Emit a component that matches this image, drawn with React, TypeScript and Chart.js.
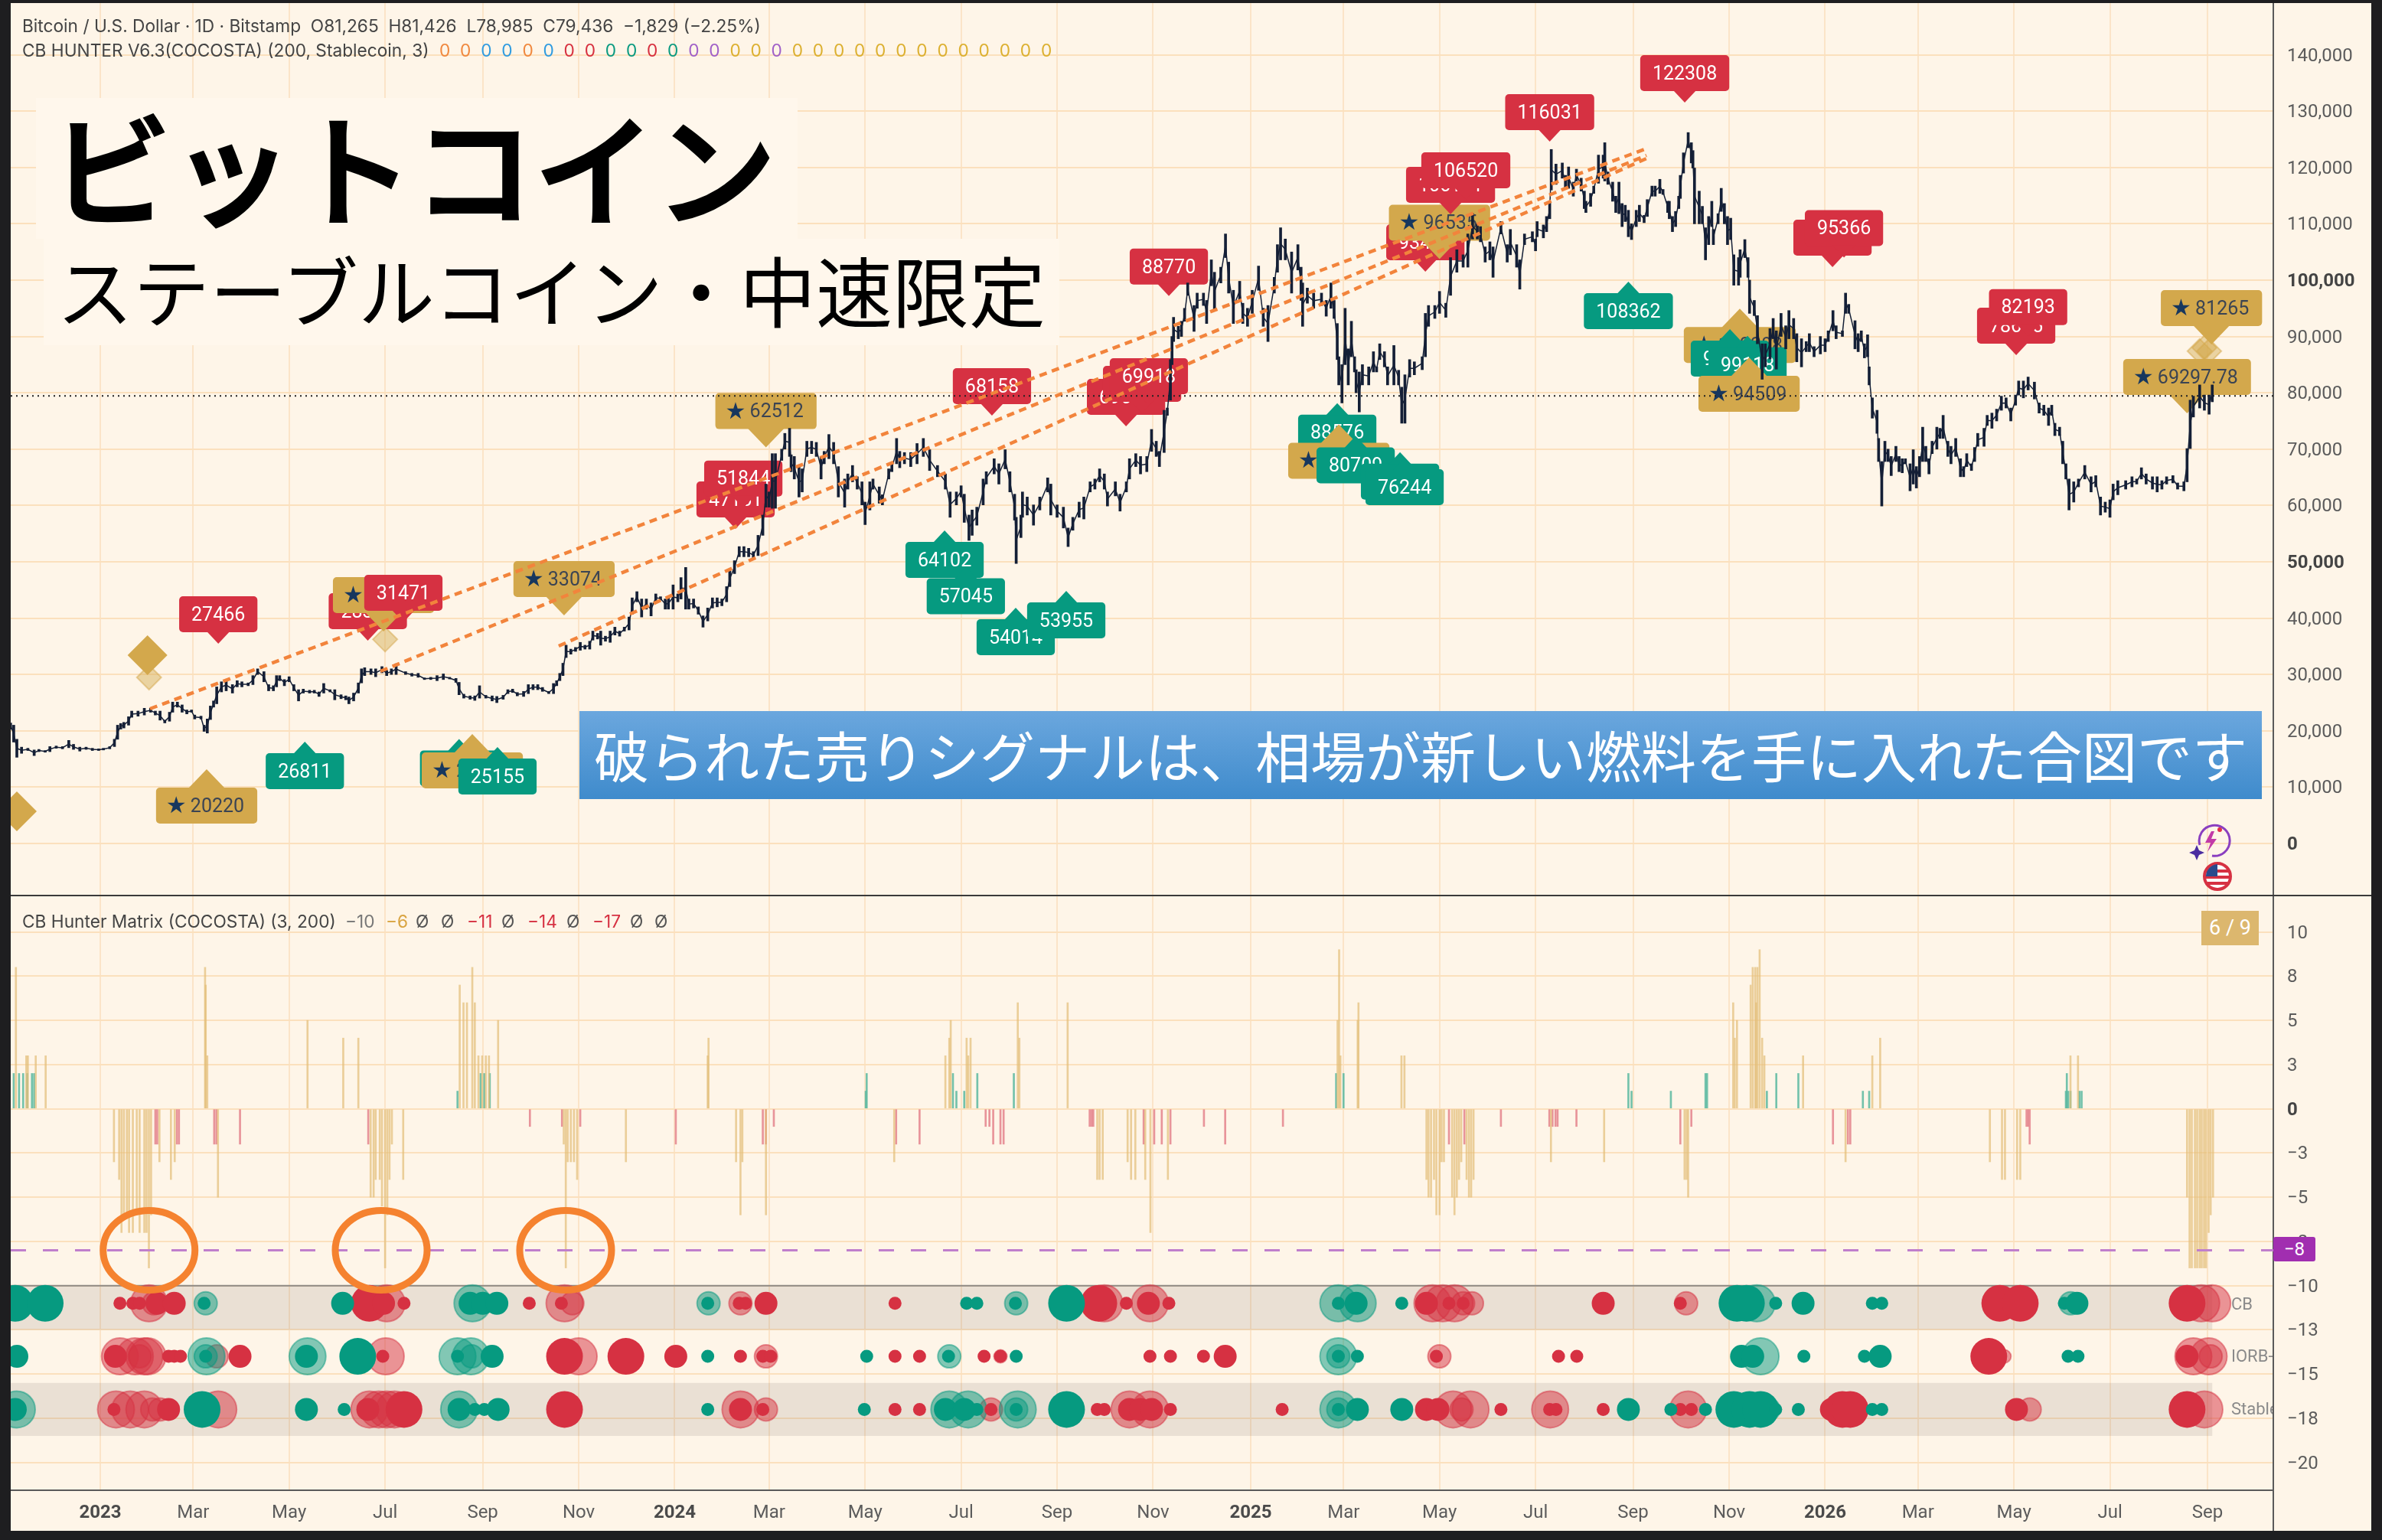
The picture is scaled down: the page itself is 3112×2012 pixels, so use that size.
import { useEffect, useRef } from 'react';
import Chart from 'chart.js/auto';

// days are counted from 2023-01-01, prices in thousands
type Candle = [number, number, number];
type Badge = [number, number, string, 'sell' | 'buy' | 'goldDown' | 'goldUp'];
type Dot = [number, number];
type Stick = [number, number];

const candles2022: Candle[] = [
  [-57, 20.3, 21.4], [-55, 18, 21], [-53, 15.3, 18.5], [-50, 16, 17.1], [-46, 16.5, 16.9], [-42, 15.6, 16.6],
  [-39, 16.3, 16.7], [-35, 16.2, 16.5], [-32, 16.3, 17.2], [-28, 16.9, 17.3], [-24, 16.8, 17.2], [-20, 17, 18.3],
  [-17, 16.7, 17.6], [-13, 16.4, 17.1], [-9, 16.7, 17.1], [-5, 16.5, 16.9], [-1, 16.5, 16.8],
];
const candles2023: Candle[] = [
  [2, 16.6, 16.9], [6, 16.8, 17.2], [9, 17.2, 18.5], [11, 18.5, 21], [13, 20.3, 21.3], [15, 20.5, 21.5], [18, 21, 22.5],
  [20, 22.4, 23.5], [24, 22.6, 23.5], [28, 22.8, 24], [32, 23.3, 24], [35, 22.8, 23.5], [38, 21.9, 23.5], [41, 21.4, 21.9],
  [44, 21.7, 23.3], [46, 23.3, 25.1], [49, 24.2, 25.1], [52, 23.3, 24.6], [55, 23, 23.7], [58, 23.3, 23.7], [60, 22.1, 22.8],
  [64, 22.1, 22.6], [66, 19.9, 21], [68, 19.6, 22.1], [70, 22, 24.4], [72, 24.2, 25.3], [74, 24.8, 27.8], [77, 26.9, 28.7],
  [80, 27.1, 29.1], [84, 26.7, 28.2], [87, 27.8, 28.9], [90, 27.8, 28.7], [94, 28, 28.5], [97, 28.2, 29.8], [100, 30, 31],
  [104, 28.7, 30.5], [107, 27.1, 28.2], [110, 27.1, 28], [112, 27.8, 29.8], [114, 28.9, 29.8], [117, 28, 29.1], [120, 28.7, 29.6],
  [123, 27.1, 28.2], [126, 25.3, 27.3], [129, 26.7, 27.4], [133, 26.7, 27.2], [136, 26.7, 27.2], [139, 26.1, 26.9], [142, 26.7, 28.4],
  [146, 26.9, 27.3], [149, 25.5, 27.3], [153, 25.7, 26.4], [156, 25.5, 26.2], [158, 24.8, 26], [161, 25.3, 26.7], [164, 26.7, 28.5],
  [166, 28.5, 31], [168, 29.8, 31.2], [172, 30, 31], [175, 29.6, 31], [179, 30.3, 31.4], [182, 29.8, 30.7], [185, 30, 31], [188, 30, 31.9],
  [194, 30, 30.5], [198, 29.7, 30.2], [202, 29.5, 30.2], [206, 29.1, 29.4], [210, 29.1, 29.5], [214, 28.9, 29.8], [218, 29.1, 30.1],
  [222, 29.2, 29.5], [226, 28.6, 29.3], [228, 26.4, 28.6], [231, 25.8, 26.5], [235, 25.6, 26.2], [238, 25.4, 26.2], [241, 25.8, 28],
  [245, 25.8, 26.3], [249, 25.3, 26.2], [252, 25, 26.1], [256, 25.6, 26.3], [259, 26.6, 27.3], [262, 26.8, 27.4], [265, 26.2, 26.8],
  [269, 26.1, 27], [272, 26.6, 28.2], [275, 27.3, 28.2], [278, 27.3, 28.2], [281, 27, 27.7], [285, 26.6, 27], [288, 26.6, 28.4],
  [290, 28, 28.9], [292, 28.9, 30.2], [294, 29.8, 32], [296, 33, 35.2], [299, 33.6, 34.5], [302, 34.1, 34.8], [305, 34.3, 35.7],
  [308, 34.5, 35.2], [311, 34.5, 35.9], [313, 36.1, 37.7], [316, 36.3, 37.3], [318, 35.2, 37.7], [321, 35.9, 36.8], [324, 35.7, 37.7],
  [327, 37, 38.4], [330, 36.8, 37.7], [333, 37.7, 38.4], [336, 37.9, 40.2], [338, 40.7, 43.6], [341, 42.9, 44.7], [344, 40.2, 43.4],
  [347, 41.6, 43.4], [350, 40.4, 42.7], [353, 42.9, 44.3], [356, 43.2, 43.8], [359, 41.6, 43.4], [361, 41.6, 43.6], [364, 41.6, 45.9],
];
const candles2024: Candle[] = [
  [367, 42.9, 44.3], [369, 43.4, 47.2], [372, 41.6, 49], [374, 41.6, 43.4], [377, 41.8, 43.4], [380, 40.7, 42], [383, 38.4, 40.4],
  [386, 39.5, 41.8], [389, 41.8, 43.6], [392, 42, 43.6], [395, 42.2, 43.4], [398, 42.9, 45.6], [400, 45.6, 48.4], [403, 47.9, 50.2],
  [406, 50.9, 52.7], [409, 50.9, 52.7], [412, 50.9, 52.4], [415, 50.6, 51.8], [418, 51.1, 54.7], [421, 54.7, 58.3], [423, 59.7, 63.8],
  [425, 59.7, 62.4], [427, 59.5, 69.2], [429, 59.5, 69.2], [433, 68, 70], [435, 70, 72.8], [438, 68.7, 73.7], [439, 66, 69], [441, 64.7, 68.7],
  [444, 61.5, 66.9], [446, 62.4, 66.5], [449, 68.7, 71.4], [452, 69.2, 71.4], [455, 68.7, 71.2], [458, 64.7, 68.7], [460, 67.4, 69.6],
  [463, 68.3, 72.6], [466, 67.4, 71.2], [469, 61.5, 66.9], [473, 59.7, 64.7], [475, 62.9, 65.6], [478, 64.2, 67.1], [481, 62.9, 65.1],
  [484, 60.1, 64.2], [486, 56.6, 60.6], [489, 59.2, 64.2], [491, 62.9, 64.7], [495, 60.4, 63.3], [497, 60.1, 61.9], [501, 64.7, 66.5],
  [503, 66, 67.4], [506, 67.4, 71.9], [508, 66.7, 69.6], [511, 67.4, 69.4], [515, 66.9, 69.4], [519, 67.4, 71], [523, 68.7, 71.9],
  [527, 66.2, 69.9], [532, 65.1, 67.1], [537, 62.9, 65.6], [540, 57.9, 62.4], [544, 60.1, 62.4], [547, 61.5, 63.5], [549, 57, 62],
  [552, 53.8, 58.3], [554, 54.7, 59.2], [557, 56.5, 59.7], [561, 60.1, 64.7], [563, 63.8, 66], [568, 65.6, 68.3], [571, 63.8, 67.4],
  [575, 66.5, 69.9], [578, 62.4, 66], [581, 57.4, 62], [582, 49.7, 57.9], [585, 54.3, 58.3], [586, 57.9, 62.4], [589, 58.3, 61.5],
  [593, 56.5, 60.1], [597, 59.2, 61.5], [602, 62.4, 64.9], [604, 58.3, 63.8], [608, 57.9, 60.1], [612, 56, 59.7], [615, 52.7, 56],
  [618, 55.6, 57.9], [622, 57.9, 60.6], [625, 57.6, 61.5], [629, 62.4, 64.2], [632, 62.9, 64.7], [635, 64.2, 66.5], [638, 62.9, 65.6],
  [640, 59.9, 62.4], [645, 61.7, 64.2], [648, 59, 62], [652, 62.4, 64.2], [654, 64.7, 68.3], [658, 66.9, 69.2], [661, 65.6, 68.7],
  [665, 66, 68.7], [668, 69.6, 73.5], [671, 68.7, 71.4], [673, 66.9, 69.6], [676, 69.4, 76.9], [678, 76, 77.3], [680, 78.7, 85.9],
  [681, 85, 90], [682, 89.1, 93.4], [685, 89.6, 91.8], [687, 90, 92.7], [689, 92.7, 95], [691, 97.3, 99.5], [695, 90.9, 95.5],
  [697, 95, 97.7], [701, 95.5, 97.7], [703, 92.3, 96.4], [706, 99, 103.6], [708, 94.6, 101.4], [712, 99.5, 102.3], [715, 104, 108.2],
  [717, 97.7, 103.2], [720, 92.3, 98.2], [724, 96.4, 99.8], [726, 92.3, 95.9], [729, 91.8, 95],
];
const candles2025: Candle[] = [
  [732, 94.1, 98.2], [736, 98.2, 102.5], [739, 91.8, 95], [742, 89.1, 95.5], [746, 97.7, 100.5], [748, 101.4, 106.3], [750, 103.6, 109.3],
  [753, 103.6, 107.3], [757, 97.7, 105], [761, 101.8, 106.3], [763, 96.4, 102.3], [764, 91.8, 99.5], [767, 95.9, 98.6], [771, 95, 97.7],
  [776, 95.5, 97.7], [779, 93.6, 96.4], [782, 95, 99.5], [784, 93.2, 96.4], [786, 85.9, 92.3], [787, 81.4, 86.4], [789, 78.2, 85],
  [791, 85, 95], [793, 81.4, 87.8], [795, 86.4, 92.7], [797, 83.7, 86.4], [798, 80, 84.1], [800, 76.6, 83.7], [802, 81.4, 85],
  [806, 81.4, 84.6], [809, 83.7, 87.3], [811, 83.7, 84.6], [813, 85.9, 88.7], [816, 84.6, 87.3], [818, 81.4, 84.6], [822, 81.4, 88.4],
  [825, 81.4, 84], [827, 74.6, 81], [829, 74.6, 83.2], [832, 82.8, 85.9], [835, 83.2, 85.5], [840, 84.1, 86.4], [842, 86.4, 94.1],
  [844, 91.8, 95.5], [848, 93.2, 95.5], [851, 94.1, 98], [855, 93.4, 95.9], [858, 97.3, 104], [862, 101.4, 105.4], [866, 102.3, 104.5],
  [869, 102.3, 108.2], [872, 107.3, 111.8], [875, 107.3, 110], [877, 106.8, 109.5], [880, 103.2, 105.9], [883, 103.6, 106.8],
  [885, 100.5, 105.9], [890, 108.2, 110.4], [894, 103.2, 106.3], [896, 104.5, 109], [900, 102.3, 106.3], [902, 98.4, 103.6],
  [905, 106.3, 108.2], [910, 106.8, 108.6], [912, 105.2, 107.3], [913, 107.7, 110.4], [917, 107.5, 109.8], [919, 108.6, 111.3],
  [921, 110.9, 114], [922, 116, 123.2], [925, 117, 120.6], [929, 118.1, 120.8], [931, 116.3, 118.6], [933, 116.3, 120.1], [936, 114.9, 117.4],
  [938, 117.6, 119.7], [941, 115.8, 118.1], [943, 112.7, 115.8], [944, 112, 114], [947, 113.1, 115.4], [949, 115.4, 116.7],
  [952, 117.2, 122.2], [955, 118.1, 122.2], [956, 117.6, 124.4], [958, 117, 119.2], [961, 114, 117.4], [963, 112, 114.9], [965, 111.8, 117.4],
  [967, 109.5, 113.6], [969, 110.4, 113.3], [971, 107.7, 112.4], [973, 107.2, 110], [976, 109.5, 112.4], [978, 110.4, 113.3],
  [981, 110.2, 111.5], [983, 111.3, 114.3], [986, 114.9, 116.7], [988, 114.9, 116.7], [991, 115.4, 117.9], [993, 115.2, 116.1],
  [996, 112, 114], [997, 110.9, 114], [999, 108.6, 111.3], [1001, 109.5, 112.2], [1003, 112.7, 114.9], [1004, 114.5, 118.6],
  [1006, 119, 122.6], [1009, 123.5, 126.2], [1011, 120.8, 124.4], [1012, 119.9, 123], [1013, 110, 119.9], [1016, 110, 115.8],
  [1018, 110, 113.1], [1020, 103.6, 109.3], [1022, 106.3, 111.3], [1024, 109.5, 114], [1025, 106.3, 109], [1028, 110, 111.8],
  [1030, 112.2, 116.3], [1032, 110, 113.6], [1034, 106.3, 111.3], [1036, 107.2, 111], [1038, 99.1, 104.5], [1041, 99.1, 104],
  [1042, 100.5, 105.4], [1045, 104, 107.2], [1047, 100.5, 104], [1048, 94.1, 100], [1051, 93.7, 96.4], [1053, 88.7, 93.7],
  [1056, 82.4, 88.7], [1058, 84.6, 88.7], [1061, 86, 91.4], [1063, 89.6, 93.2], [1065, 84.2, 91], [1068, 90, 94.1], [1071, 87.8, 91.9],
  [1073, 89.6, 94.6], [1076, 89.6, 93.2], [1078, 85.5, 90.5], [1081, 84.6, 89.6], [1084, 87.3, 89.1], [1086, 87.3, 90.5],
  [1089, 86.4, 88.2], [1093, 86.9, 90],
];
const candles2026: Candle[] = [
  [1096, 87.3, 89.6], [1098, 89.1, 91], [1101, 91, 94.6], [1103, 89.6, 91.9], [1107, 90, 91], [1109, 94.1, 97.7], [1111, 94.1, 95.7],
  [1115, 87.8, 92.8], [1117, 87.3, 90.5], [1119, 89.1, 91], [1121, 86.2, 88.7], [1123, 86.4, 90.3], [1124, 81.4, 84.6], [1126, 75.5, 79.1],
  [1129, 72.8, 76.9], [1130, 67.8, 71.9], [1132, 59.9, 67.8], [1134, 67.8, 71.4], [1136, 67.8, 70], [1138, 65.3, 68.7], [1141, 67.8, 70.5],
  [1143, 66, 68.7], [1145, 65.8, 68.3], [1147, 67.4, 68.3], [1150, 62.6, 67.4], [1152, 63.8, 69.9], [1154, 63.1, 66.9], [1156, 65.1, 68.7],
  [1158, 67.8, 73.9], [1160, 67.8, 70.5], [1162, 65.6, 68.3], [1164, 69.2, 71.4], [1167, 70, 73.9], [1169, 71.9, 73.7], [1171, 71.9, 76],
  [1174, 68.7, 71.4], [1176, 67.4, 70.5], [1179, 68.7, 71.9], [1182, 65.1, 68.3], [1184, 65.1, 66.9], [1186, 66.9, 69.2], [1189, 66.2, 67.4],
  [1191, 67.8, 70.3], [1193, 70.5, 72.8], [1197, 70.5, 73.7], [1199, 74.2, 76], [1202, 73.7, 76.4], [1205, 75, 77.1], [1208, 76.9, 79.4],
  [1211, 77.3, 79.1], [1214, 75, 77.3], [1217, 77.8, 79.6], [1219, 79.6, 82.1], [1222, 79.1, 82.1], [1225, 80.5, 82.8], [1229, 78.9, 81.9],
  [1232, 76.4, 78.2], [1235, 76, 77.8], [1238, 74.2, 77.3], [1240, 76, 77.8], [1242, 72.4, 74.6], [1245, 72.4, 73.9], [1247, 67.4, 71.4],
  [1249, 64.7, 67.4], [1251, 59.2, 64.7], [1254, 60.6, 64.2], [1257, 63.3, 64.7], [1261, 64.7, 67.1], [1265, 62.4, 65.1], [1268, 63.3, 65.3],
  [1271, 58.3, 61.5], [1274, 58.8, 60.6], [1277, 57.9, 61], [1279, 61, 63.8], [1282, 61.9, 64.4], [1287, 62.9, 64.4], [1291, 63.3, 65.1],
  [1294, 63.8, 64.7], [1297, 64.7, 66.7], [1300, 63.8, 65.6], [1304, 62.9, 65.1], [1307, 62.4, 65.1], [1310, 62.9, 64.4], [1313, 63.8, 65.1],
  [1317, 64, 65.3], [1320, 62.9, 64], [1324, 62.6, 64.2], [1326, 64.2, 70.1], [1328, 70.1, 78.7], [1330, 75.7, 79.4], [1334, 77.3, 81.4],
  [1337, 76.9, 79.6], [1340, 76.2, 79.6], [1342, 78.4, 81.4],
];

const lastPrice = 79436;

// tip of each marker: day, price, text, kind. drawn in this order
const badges: Badge[] = [
  [67.6, 13180, '20220', 'goldUp'], [75, 35460, '27466', 'sell'], [130, 18070, '26811', 'buy'], [170, 36005, '28357', 'sell'],
  [180, 37640, '30118', 'goldDown'], [192.6, 39266, '31471', 'sell'], [228, 18560, '26150', 'buy'], [236.4, 19430, '25880', 'goldUp'],
  [252.4, 17120, '25155', 'buy'], [294.7, 40490, '33074', 'goldDown'], [403.7, 55840, '47151', 'sell'], [408.6, 59560, '51844', 'sell'],
  [423, 70300, '62512', 'goldDown'], [536.5, 55570, '64102', 'buy'], [550, 49120, '57045', 'buy'], [566.6, 75950, '68158', 'sell'],
  [581.7, 41850, '54014', 'buy'], [613.8, 44840, '53955', 'buy'], [651.8, 74050, '69690', 'sell'], [662, 76360, '69040', 'sell'],
  [666.3, 77720, '69918', 'sell'], [679, 97180, '88770', 'sell'], [786, 78170, '88576', 'buy'], [787, 74390, '83340', 'goldUp'],
  [797.7, 72340, '80709', 'buy'], [825.9, 69470, '78120', 'buy'], [828.8, 68480, '76244', 'buy'], [842, 101500, '93401', 'sell'],
  [851, 103740, '96535', 'goldDown'], [858, 111700, '106181', 'sell'], [867.7, 114270, '106520', 'sell'], [921, 124590, '116031', 'sell'],
  [971, 99730, '108362', 'buy'], [1006.8, 131520, '122308', 'sell'], [1041.8, 94930, '102288', 'goldUp'], [1035.5, 91300, '99018', 'buy'],
  [1046.7, 90130, '99118', 'buy'], [1047.7, 86280, '94509', 'goldUp'], [1100.7, 102300, '95120', 'sell'], [1108, 104000, '95366', 'sell'],
  [1217.4, 86690, '78605', 'sell'], [1225, 89990, '82193', 'sell'], [1326, 76360, '69297.78', 'goldDown'], [1341.5, 88590, '81265', 'goldDown'],
];

const diamondsSolid = [{ x: -53, y: 5720 }, { x: 30, y: 33420 }];
const diamondsLight = [
  { x: 31, y: 29480 }, { x: 181, y: 36230 }, { x: 1334, y: 87400 }, { x: 1337, y: 88000 }, { x: 1340, y: 87400 },
];

const trendA = [{ x: 31.6, y: 23913 }, { x: 982.5, y: 123370 }];
const trendB = [{ x: 178, y: 30570 }, { x: 982.5, y: 122150 }];
const trendC = [{ x: 291.3, y: 35050 }, { x: 982.5, y: 121600 }];

const priceTicks = [0, 10000, 20000, 30000, 40000, 50000, 60000, 70000, 80000, 90000, 100000, 110000, 120000, 130000, 140000];
const boldPriceTicks = [0, 50000, 100000];
const matrixTicks = [10, 7.5, 5, 2.5, 0, -2.5, -5, -7.5, -10, -12.5, -15, -17.5, -20];
const matrixTickLabels = ['10', '8', '5', '3', '0', '−3', '−5', '−8', '−10', '−13', '−15', '−18', '−20'];

const monthDays = [0, 59, 120, 181, 243, 304, 365, 425, 486, 547, 608, 669, 731, 790, 851, 912, 974, 1035, 1096, 1155, 1216, 1277, 1339];
const monthLabels = ['2023', 'Mar', 'May', 'Jul', 'Sep', 'Nov', '2024', 'Mar', 'May', 'Jul', 'Sep', 'Nov', '2025', 'Mar', 'May', 'Jul', 'Sep', 'Nov', '2026', 'Mar', 'May', 'Jul', 'Sep'];

// histogram sticks: day, score
const goldSticks: Stick[] = [
  [-53.6, 8], [-47, 3], [-46, 3], [-41, 3], [-34.7, 3], [66.6, 8], [67, 7], [68, 3], [131.7, 5], [154.4, 4], [164, 4],
  [228.4, 7], [230.8, 6], [233, 6], [236.4, 8], [238, 6], [240.3, 3], [242.7, 3], [245, 3], [247, 3], [252.8, 5],
  [386, 3], [386.5, 4], [537, 3], [539.5, 4], [540.4, 5], [550.5, 4], [551.5, 3], [553, 4], [583, 6], [584, 4], [614.7, 6],
  [8.7, -3], [12, -4], [13.5, -7], [15, -6], [16.9, -6], [18.3, -7], [20.7, -7], [23.2, -6], [25, -7], [28, -7], [29.4, -7], [30.9, -9], [32.3, -6],
  [37.6, -3], [44.9, -4], [47.3, -3], [74.8, -5], [171.8, -5], [173.7, -5], [175, -4], [177.6, -4], [179, -5.5], [181, -9], [182.4, -6], [183.8, -4],
  [185.3, -2], [192.5, -4], [295.8, -9], [294.5, -2], [297, -3], [299, -3], [301, -3], [303, -4], [334, -3], [404, -3], [406.8, -6], [408, -3],
  [423, -6], [504.5, -3], [633.5, -4], [635, -4], [637, -4], [652.8, -3], [655, -4], [657.7, -4], [664, -4], [667.3, -7], [678.4, -4],
  [786.2, 5], [787.2, 9], [788, 3], [799, 5], [799.5, 6], [826.8, 3], [828.7, 3],
  [842.7, -4], [844, -5], [845.6, -5], [847.5, -4], [849, -6], [851, -6], [852.3, -3], [853.8, -3], [859, -5], [860.5, -6], [862, -5], [863.4, -4], [864.8, -3],
  [868.2, -4], [869.7, -5], [871.1, -5], [872.6, -4], [921.8, -3], [955.6, -3], [1006.7, -4], [1008, -4], [1009, -5],
  [1037.6, 6], [1038.6, 4], [1040, 5], [1048.7, 7], [1050, 8], [1051.6, 8], [1053, 8], [1054.4, 9], [1052.2, 6], [1056, 4], [1057.4, 3],
  [1082, 3], [1109, -3], [1126, 3], [1131, 4], [1200.7, -3], [1208.4, -4], [1210.3, -4], [1218, -4], [1220, -4], [1251.9, 3], [1256.7, 3],
  [1326, -5], [1327.6, -9], [1329, -9], [1331, -9], [1332.4, -9], [1334, -9], [1335.3, -9], [1336.8, -9], [1338, -9], [1339.7, -7], [1341, -6], [1342.5, -5],
];
const greenSticks: Stick[] = [
  [-55, 2], [-51.6, 2], [-49, 2], [-46.4, 2], [-43.4, 2], [-42, 2], [227, 1], [241.7, 2], [244, 2], [247.5, 2], [486.4, 1], [487, 2],
  [541.8, 2], [544, 1], [549, 1], [557.3, 2], [580.5, 2], [785.3, 2], [790, 2], [971, 2], [973, 1], [998, 1], [1020, 2], [1021, 2],
  [1059, 1], [1065, 2], [1079, 2], [1120, 1], [1124, 1], [1249, 1], [1249.6, 2], [1250.4, 1], [1251.9, 1], [1257.6, 1], [1259, 1],
];
const redSticks: Stick[] = [
  [36.2, -2], [35, -2], [48.7, -2], [50, -2], [72.4, -2], [73.8, -2], [88.8, -2], [170.3, -2], [273, -1], [293.4, -1], [305, -1], [365.7, -2],
  [421, -2], [423, -2], [428, -1], [505.7, -2], [520.6, -2], [562.6, -1], [565, -1], [567.4, -2], [572, -2], [574, -2], [628.7, -1], [630, -1], [631, -1],
  [663, -2], [669.7, -2], [674.5, -2], [680, -2], [701.3, -1], [714.8, -2], [751.5, -1], [857, -2], [866.8, -2], [890, -1], [920.8, -1], [922.8, -1],
  [924.7, -1], [926, -1], [938, -1], [1004, -2], [1011, -1], [1101, -2], [1110.5, -2], [1112, -2], [1224, -1], [1225, -1], [1226, -2],
];

// matrix dots: day, size level (1 small, 2 medium, 3 large)
const cbGreen: Dot[] = [[-54, 3], [-35, 3], [66, 1], [154, 2], [235, 2], [243, 2], [252, 2], [386, 1], [550.5, 1], [557, 1], [581.5, 1], [614, 3], [786.7, 1], [798, 2], [827, 1], [1040, 3], [1046, 3], [1064.6, 1], [1082, 2], [1126, 1], [1132, 1], [1248, 1], [1256, 2]];
const cbGreenHalo: Dot[] = [[67, 2], [236.5, 3], [386.5, 2], [582, 2], [786.7, 3], [799, 3], [1052.6, 3], [1252, 2]];
const cbRed: Dot[] = [[12.5, 1], [20.7, 1], [25, 1], [36, 2], [47, 2], [171, 3], [180, 2], [193, 1], [272.6, 1], [293, 1], [406, 1], [410, 1], [423, 2], [505, 1], [634.5, 3], [652, 1], [666, 2], [679, 1], [842.7, 2], [857, 1], [866, 1], [955, 2], [1004, 1], [1207, 3], [1220, 3], [1326, 3]];
const cbRedHalo: Dot[] = [[31, 3], [34, 2], [182, 3], [295, 3], [300, 2], [406.8, 2], [638, 3], [667, 3], [846.5, 3], [853, 3], [860.5, 3], [866, 2], [871.6, 2], [1007.7, 2], [1335, 3], [1342, 3]];

const iorbGreen: Dot[] = [[-53, 2], [67, 1], [131, 2], [163.6, 3], [227, 1], [249, 2], [386, 1], [487, 1], [539, 1], [582, 1], [786.7, 1], [798.8, 1], [1042.9, 2], [1050, 2], [1082.5, 1], [1121, 1], [1131, 2], [1250.4, 1], [1256.7, 1]];
const iorbGreenHalo: Dot[] = [[67.5, 3], [67, 2], [131.7, 3], [227, 3], [235.5, 3], [236, 2], [539.5, 2], [786.7, 3], [786.7, 2], [1055, 3]];
const iorbRed: Dot[] = [[9.6, 2], [43.4, 1], [47, 1], [51, 1], [88.8, 2], [179.5, 1], [295, 3], [334, 3], [365.7, 2], [406.8, 1], [421, 1], [426, 1], [505, 1], [520.6, 1], [561.6, 1], [572, 1], [667, 1], [680, 1], [701, 1], [714.8, 2], [849, 1], [926.6, 1], [938.2, 1], [1200, 3], [1326, 2]];
const iorbRedHalo: Dot[] = [[12.5, 3], [22, 3], [28, 3], [30, 3], [25, 2], [74, 2], [181.4, 3], [304, 3], [423, 2], [572, 1], [850.9, 2], [1210, 1], [1330, 3], [1339.7, 3], [1341, 2]];

const stableGreen: Dot[] = [[-54, 2], [64.7, 3], [131, 2], [155, 1], [228, 2], [238, 1], [244, 1], [252.8, 2], [386, 1], [485.5, 1], [537, 2], [549, 2], [557, 1], [582, 1], [614, 3], [786.7, 1], [798.8, 2], [827, 2], [971, 2], [998, 1], [1020, 1], [1038, 3], [1048, 3], [1055, 3], [1064.6, 1], [1079, 1], [1126, 1], [1132, 1]];
const stableGreenHalo: Dot[] = [[-53, 3], [228, 3], [539.5, 3], [551.5, 3], [583, 3], [582, 2], [786.7, 3], [786.7, 2], [1060, 2]];
const stableRed: Dot[] = [[8.7, 1], [43.4, 2], [170, 2], [193, 3], [295, 3], [406.8, 2], [421, 1], [505, 1], [520.6, 1], [566, 1], [633.5, 1], [638, 1], [654, 2], [661, 2], [668, 2], [680, 1], [751, 1], [842.7, 2], [850, 2], [890, 1], [921, 1], [925, 1], [955, 1], [1004, 1], [1011, 1], [1100, 2], [1107, 3], [1112, 3], [1217.6, 2], [1326, 3]];
const stableRedHalo: Dot[] = [[10, 3], [19, 3], [28, 3], [33, 2], [38, 2], [75, 3], [171, 3], [177, 3], [182, 3], [187, 3], [406.8, 3], [423, 2], [566, 2], [654, 3], [667, 3], [859.6, 3], [865, 2], [870.7, 3], [921.3, 3], [1009, 3], [1226, 2], [1337, 3]];

const circledDays = [31, 178.5, 295.7];
const rowValues = [-11, -14, -17];

const headerZeroColors = ['#f0883e', '#f0883e', '#2f9be0', '#2f9be0', '#f0883e', '#2f9be0', '#d7303f', '#d7303f', '#0a9a80', '#0a9a80', '#d7303f', '#0a9a80', '#a060c8', '#a060c8', '#dcb030', '#dcb030', '#a060c8', '#dcb030', '#dcb030', '#dcb030', '#dcb030', '#dcb030', '#dcb030', '#dcb030', '#dcb030', '#dcb030', '#dcb030', '#dcb030', '#dcb030', '#dcb030'];

const BG = '#fef5e8';
const GRID_H = '#fbe0bd';
const GRID_V = '#fbe4c8';
const AXIS_LINE = '#5a5a5a';
const TICK_COLOR = '#5c5c5c';
const RED = '#d63142';
const GREEN = '#069a80';
const GOLD = '#d3a84c';
const DAY_MIN = -56.9;
const DAY_MAX = 1380.8;
const UI_FONT = 'Roboto, "DejaVu Sans", sans-serif';
const LEVEL_R = [0, 8.5, 15, 24];

const allCandles = [...candles2022, ...candles2023, ...candles2024, ...candles2025, ...candles2026];

const noScalePadding = (scale: any) => {
  scale.paddingTop = 0;
  scale.paddingBottom = 0;
  scale.paddingLeft = 0;
  scale.paddingRight = 0;
};

const badgePlugin = {
  id: 'badges',
  afterDatasetDraw(chart: any, args: any) {
    if (args.meta.label !== 'diamonds light') return;
    const { ctx, scales } = chart;
    ctx.save();
    ctx.textBaseline = 'middle';
    const boxH = 47;
    for (const [day, tip, text, kind] of badges) {
      const gold = kind === 'goldUp' || kind === 'goldDown';
      const up = kind === 'buy' || kind === 'goldUp';
      const fill = gold ? GOLD : kind === 'sell' ? RED : GREEN;
      const tipH = gold ? 24 : 15;
      const tipW = gold ? 24 : 15;
      const tx = scales.x.getPixelForValue(day);
      const ty = scales.y.getPixelForValue(tip);
      ctx.font = `25px ${UI_FONT}`;
      const textW = ctx.measureText(text).width;
      const w = textW + 32 + (gold ? 30 : 0);
      const top = up ? ty + tipH : ty - tipH - boxH;
      ctx.fillStyle = fill;
      ctx.beginPath();
      ctx.roundRect(tx - w / 2, top, w, boxH, 5);
      ctx.fill();
      ctx.beginPath();
      const baseY = up ? top + 1 : top + boxH - 1;
      ctx.moveTo(tx - tipW, baseY);
      ctx.lineTo(tx, ty);
      ctx.lineTo(tx + tipW, baseY);
      ctx.closePath();
      ctx.fill();
      const midY = top + boxH / 2 + 2;
      ctx.textAlign = 'left';
      if (gold) {
        ctx.fillStyle = '#3b4453';
        ctx.fillText(text, tx - w / 2 + 45, midY);
        ctx.fillStyle = '#17375e';
        ctx.font = `30px ${UI_FONT}`;
        ctx.fillText('★', tx - w / 2 + 13, midY);
      } else {
        ctx.fillStyle = '#ffffff';
        ctx.fillText(text, tx - w / 2 + 16, midY);
      }
    }
    ctx.restore();
  },
};

const bandPlugin = {
  id: 'bands',
  beforeDatasetsDraw(chart: any) {
    const { ctx, scales, chartArea } = chart;
    const right = scales.x.getPixelForValue(1342);
    const y = scales.y;
    ctx.save();
    ctx.fillStyle = 'rgba(110, 100, 90, 0.14)';
    ctx.fillRect(chartArea.left, y.getPixelForValue(-10), right - chartArea.left, y.getPixelForValue(-12.5) - y.getPixelForValue(-10));
    ctx.fillRect(chartArea.left, y.getPixelForValue(-15.5), right - chartArea.left, y.getPixelForValue(-18.5) - y.getPixelForValue(-15.5));
    ctx.strokeStyle = '#8f8a84';
    ctx.lineWidth = 2;
    ctx.beginPath();
    ctx.moveTo(chartArea.left, y.getPixelForValue(-10));
    ctx.lineTo(right, y.getPixelForValue(-10));
    ctx.stroke();
    ctx.restore();
  },
  afterDatasetsDraw(chart: any) {
    const { ctx, scales } = chart;
    ctx.save();
    ctx.strokeStyle = '#f5822f';
    ctx.lineWidth = 9;
    for (const day of circledDays) {
      ctx.beginPath();
      ctx.ellipse(scales.x.getPixelForValue(day), scales.y.getPixelForValue(-8), 60, 52, 0, 0, Math.PI * 2);
      ctx.stroke();
    }
    ctx.restore();
  },
};

const xScale = (withLabels: boolean) => ({
  type: 'linear' as const,
  min: DAY_MIN,
  max: DAY_MAX,
  offset: false,
  afterBuildTicks: (scale: any) => {
    scale.ticks = monthDays.map((value) => ({ value }));
  },
  afterFit: (scale: any) => {
    scale.height = withLabels ? 53 : 0;
    noScalePadding(scale);
  },
  border: { display: withLabels, color: AXIS_LINE, width: 2 },
  grid: { color: GRID_V, lineWidth: 2, drawTicks: false, offset: false },
  ticks: {
    display: withLabels,
    autoSkip: false,
    maxRotation: 0,
    padding: 16,
    color: (ctx: any) => (monthLabels[ctx.index]?.startsWith('20') ? '#4a4a4a' : TICK_COLOR),
    font: (ctx: any) => ({
      family: UI_FONT,
      size: 24,
      weight: monthLabels[ctx.index]?.startsWith('20') ? 'bold' : 'normal',
    }),
    callback: (value: any) => monthLabels[monthDays.indexOf(value)] ?? '',
  },
});

const dotDataset = (label: string, dots: Dot[], row: number, color: string, halo: boolean) => ({
  type: 'bubble' as const,
  label,
  data: dots.map(([x, level]) => ({ x, y: row, r: LEVEL_R[level] })),
  backgroundColor: color,
  borderColor: halo ? color : 'transparent',
  borderWidth: halo ? 2 : 0,
  order: halo ? 2 : 1,
});

const stickDataset = (label: string, sticks: Stick[], color: string) => ({
  type: 'bar' as const,
  label,
  data: sticks.map(([x, y]) => ({ x, y })),
  backgroundColor: color,
  barThickness: 2,
  grouped: false,
  order: 5,
});

export default function App() {
  const priceRef = useRef<HTMLCanvasElement | null>(null);
  const matrixRef = useRef<HTMLCanvasElement | null>(null);

  useEffect(() => {
    if (!priceRef.current || !matrixRef.current) return;

    const trend = (label: string, data: { x: number; y: number }[]) => ({
      type: 'line' as const,
      label,
      data,
      borderColor: '#f2843c',
      borderWidth: 4.5,
      borderDash: [10, 7],
      pointRadius: 0,
      order: 1,
    });

    const priceChart = new Chart(priceRef.current, {
      type: 'bar',
      data: {
        datasets: [
          trend('trend a', trendA),
          trend('trend b', trendB),
          trend('trend c', trendC),
          {
            type: 'line',
            label: 'last',
            data: [{ x: DAY_MIN, y: lastPrice }, { x: DAY_MAX, y: lastPrice }],
            borderColor: '#222222',
            borderWidth: 2,
            borderDash: [2, 5],
            pointRadius: 0,
            order: 4,
          },
          {
            type: 'bar',
            label: 'range',
            data: allCandles.map(([x, lo, hi]) => ({ x, y: [lo * 1000, hi * 1000] })),
            backgroundColor: '#141f36',
            barThickness: 3,
            grouped: false,
            order: 2,
          },
          {
            type: 'line',
            label: 'close',
            data: allCandles.map(([x, lo, hi]) => ({ x, y: ((lo + hi) / 2) * 1000 })),
            borderColor: '#141f36',
            borderWidth: 1.5,
            pointRadius: 0,
            order: 3,
          },
          {
            type: 'scatter',
            label: 'diamonds solid',
            data: diamondsSolid,
            pointStyle: 'rectRot',
            pointRadius: 26,
            backgroundColor: GOLD,
            borderWidth: 0,
            order: 5,
          },
          {
            type: 'scatter',
            label: 'diamonds light',
            data: diamondsLight,
            pointStyle: 'rectRot',
            pointRadius: 16,
            backgroundColor: 'rgba(211, 168, 76, 0.45)',
            borderColor: 'rgba(211, 168, 76, 0.5)',
            borderWidth: 2,
            order: 6,
          },
        ],
      } as any,
      options: {
        responsive: false,
        animation: false,
        devicePixelRatio: 1,
        events: [],
        layout: { padding: 0, autoPadding: false },
        plugins: { legend: { display: false }, tooltip: { enabled: false } },
        scales: {
          x: xScale(false),
          y: {
            position: 'right',
            min: -9240,
            max: 149185,
            afterBuildTicks: (scale: any) => {
              scale.ticks = priceTicks.map((value) => ({ value }));
            },
            afterFit: (scale: any) => {
              scale.width = 128;
              noScalePadding(scale);
            },
            border: { color: AXIS_LINE, width: 2 },
            grid: { color: GRID_H, lineWidth: 2, drawTicks: false },
            ticks: {
              autoSkip: false,
              padding: 18,
              labelOffset: 2,
              color: (ctx: any) => (boldPriceTicks.includes(ctx.tick?.value) ? '#444444' : TICK_COLOR),
              font: (ctx: any) => ({
                family: UI_FONT,
                size: 24,
                weight: boldPriceTicks.includes(ctx.tick?.value) ? 'bold' : 'normal',
              }),
              callback: (value: any) => Number(value).toLocaleString('en-US'),
            },
          },
        },
      } as any,
      plugins: [badgePlugin],
    });

    const redHalo = 'rgba(214, 49, 66, 0.5)';
    const greenHalo = 'rgba(6, 154, 128, 0.5)';

    const matrixChart = new Chart(matrixRef.current, {
      type: 'bar',
      data: {
        datasets: [
          dotDataset('cb green', cbGreen, rowValues[0], GREEN, false),
          dotDataset('cb red', cbRed, rowValues[0], RED, false),
          dotDataset('cb green halo', cbGreenHalo, rowValues[0], greenHalo, true),
          dotDataset('cb red halo', cbRedHalo, rowValues[0], redHalo, true),
          dotDataset('iorb green', iorbGreen, rowValues[1], GREEN, false),
          dotDataset('iorb red', iorbRed, rowValues[1], RED, false),
          dotDataset('iorb green halo', iorbGreenHalo, rowValues[1], greenHalo, true),
          dotDataset('iorb red halo', iorbRedHalo, rowValues[1], redHalo, true),
          dotDataset('stable green', stableGreen, rowValues[2], GREEN, false),
          dotDataset('stable red', stableRed, rowValues[2], RED, false),
          dotDataset('stable green halo', stableGreenHalo, rowValues[2], greenHalo, true),
          dotDataset('stable red halo', stableRedHalo, rowValues[2], redHalo, true),
          {
            type: 'line',
            label: 'threshold',
            data: [{ x: DAY_MIN, y: -8 }, { x: DAY_MAX, y: -8 }],
            borderColor: '#c07fcc',
            borderWidth: 3,
            borderDash: [20, 22],
            pointRadius: 0,
            order: 3,
          },
          stickDataset('score gold', goldSticks, 'rgba(226, 190, 120, 0.7)'),
          stickDataset('score green', greenSticks, 'rgba(90, 185, 160, 0.85)'),
          stickDataset('score red', redSticks, 'rgba(228, 130, 140, 0.85)'),
        ],
      } as any,
      options: {
        responsive: false,
        animation: false,
        devicePixelRatio: 1,
        events: [],
        layout: { padding: 0, autoPadding: false },
        plugins: { legend: { display: false }, tooltip: { enabled: false } },
        scales: {
          x: xScale(true),
          y: {
            position: 'right',
            min: -21.57,
            max: 12.06,
            afterBuildTicks: (scale: any) => {
              scale.ticks = matrixTicks.map((value) => ({ value }));
            },
            afterFit: (scale: any) => {
              scale.width = 128;
              noScalePadding(scale);
            },
            border: { color: AXIS_LINE, width: 2 },
            grid: { color: GRID_H, lineWidth: 2, drawTicks: false },
            ticks: {
              autoSkip: false,
              padding: 18,
              labelOffset: 2,
              color: (ctx: any) => (ctx.tick?.value === 0 ? '#444444' : TICK_COLOR),
              font: (ctx: any) => ({ family: UI_FONT, size: 24, weight: ctx.tick?.value === 0 ? 'bold' : 'normal' }),
              callback: (value: any) => matrixTickLabels[matrixTicks.indexOf(value)] ?? '',
            },
          },
        },
      } as any,
      plugins: [bandPlugin],
    });

    return () => {
      priceChart.destroy();
      matrixChart.destroy();
    };
  }, []);

  const headText = { position: 'absolute', fontFamily: 'Inter, sans-serif', fontSize: 22.7, color: '#444444', whiteSpace: 'pre' } as const;
  const jp = '"Noto Sans CJK JP", sans-serif';

  return (
    <div style={{ position: 'fixed', left: 0, top: 0, width: 3112, height: 2012, background: '#1e1e20', overflow: 'hidden' }}>
      <canvas ref={priceRef} width={3084} height={1166} style={{ position: 'absolute', left: 14, top: 4, background: BG, display: 'block' }} />
      <canvas ref={matrixRef} width={3084} height={830} style={{ position: 'absolute', left: 14, top: 1170, background: BG, display: 'block' }} />
      <div style={{ position: 'absolute', left: 14, top: 1169, width: 3084, height: 2, background: '#3a3a3a' }} />
      <div style={{ position: 'absolute', left: 2969, top: 1947, width: 2, height: 53, background: AXIS_LINE }} />

      <div style={{ ...headText, left: 29, top: 20 }}>
        {'Bitcoin / U.S. Dollar · 1D · Bitstamp  O81,265  H81,426  L78,985  C79,436  −1,829 (−2.25%)'}
      </div>
      <div style={{ ...headText, left: 29, top: 52 }}>{'CB HUNTER V6.3(COCOSTA) (200, Stablecoin, 3)'}</div>
      {headerZeroColors.map((color, i) => (
        <div key={i} style={{ ...headText, left: 574 + i * 27.1, top: 52, color }}>0</div>
      ))}

      <div style={{ position: 'absolute', left: 47, top: 128, width: 995, height: 184, background: '#fff7ec' }} />
      <div style={{ position: 'absolute', left: 66, top: 110, fontFamily: jp, fontWeight: 500, fontSize: 158, lineHeight: '210px', color: '#000', whiteSpace: 'pre', WebkitTextStroke: '4px #000' }}>ビットコイン</div>
      <div style={{ position: 'absolute', left: 57, top: 312, width: 1327, height: 139, background: '#fff7ec' }} />
      <div style={{ position: 'absolute', left: 74, top: 307, fontFamily: jp, fontWeight: 400, fontSize: 100, lineHeight: '140px', color: '#000', whiteSpace: 'pre' }}>ステーブルコイン・中速限定</div>

      <div style={{ position: 'absolute', left: 757, top: 929, width: 2198, height: 115, paddingBottom: 5, boxSizing: 'border-box', background: 'linear-gradient(#6ba7de, #3f8bcc)', display: 'flex', alignItems: 'center', justifyContent: 'center', fontFamily: jp, fontSize: 72, color: '#fff', whiteSpace: 'pre' }}>
        破られた売りシグナルは、相場が新しい燃料を手に入れた合図です
      </div>

      <svg style={{ position: 'absolute', left: 2860, top: 1076, width: 60, height: 90 }} viewBox="0 0 60 90">
        <path d="M14 28 A20 20 0 1 1 30 42" fill="none" stroke="#8a3fc0" strokeWidth="3" />
        <path d="M29 10 L21 25 L28 25 L24 37 L36 20 L29 20 L33 10 Z" fill="#c23aa8" />
        <path d="M10 28 L13 35 L20 38 L13 41 L10 48 L7 41 L0 38 L7 35 Z" fill="#4a2ca0" />
        <circle cx="40" cy="8" r="3" fill="#e0304a" />
        <circle cx="37" cy="69" r="17" fill="#fff" stroke="#d63142" strokeWidth="4" />
        <path d="M22 62 H52 M21 70 H53 M24 78 H50" stroke="#d63142" strokeWidth="4" />
        <path d="M22 69 A16 16 0 0 1 37 53 V69 Z" fill="#2a4a8c" />
      </svg>

      <div style={{ ...headText, left: 29, top: 1190 }}>CB Hunter Matrix (COCOSTA) (3, 200)</div>
      {[
        ['−10', 451, '#777'], ['−6', 504, '#d9a441'], ['Ø', 543, '#555'], ['Ø', 576, '#555'], ['−11', 610, RED], ['Ø', 655, '#555'],
        ['−14', 689, RED], ['Ø', 740, '#555'], ['−17', 774, RED], ['Ø', 823, '#555'], ['Ø', 855, '#555'],
      ].map(([text, left, color], i) => (
        <div key={i} style={{ ...headText, left: left as number, top: 1190, color: color as string }}>{text}</div>
      ))}

      <div style={{ position: 'absolute', left: 2876, top: 1190, width: 75, height: 45, background: '#dcb76e', color: '#fff', fontFamily: UI_FONT, fontSize: 27, lineHeight: '45px', textAlign: 'center' }}>6 / 9</div>
      <div style={{ position: 'absolute', left: 2970, top: 1616, width: 55, height: 32, background: '#a12eb0', color: '#fff', fontFamily: UI_FONT, fontSize: 24, lineHeight: '32px', textAlign: 'center', borderRadius: 3 }}>−8</div>

      {[['CB', 1691], ['IORB-S', 1759], ['Stable', 1828]].map(([text, top]) => (
        <div key={text} style={{ position: 'absolute', left: 2915, top: top as number, width: 54, overflow: 'hidden', fontFamily: UI_FONT, fontSize: 22, color: '#8a8a8a', whiteSpace: 'pre' }}>{text}</div>
      ))}
    </div>
  );
}
